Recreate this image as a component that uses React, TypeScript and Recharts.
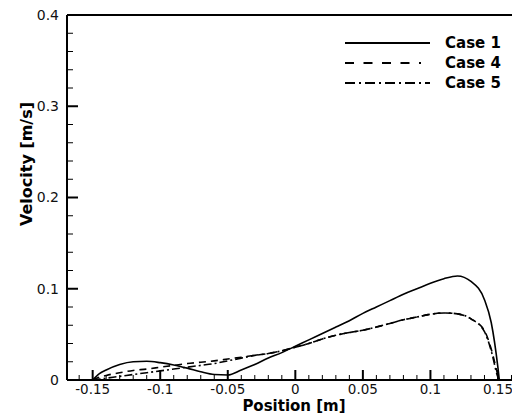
import React from "react";
import { LineChart, Line, XAxis, YAxis, ReferenceLine, Label } from "recharts";

// positions along the section [m]
const positions = [
  -0.15, -0.145, -0.14, -0.13, -0.12, -0.11, -0.1, -0.09, -0.08, -0.07, -0.06, -0.05,
  -0.04, -0.03, -0.02, -0.01, 0, 0.01, 0.02, 0.03, 0.04, 0.05, 0.06, 0.07, 0.08, 0.09,
  0.1, 0.11, 0.12, 0.13, 0.14, 0.145, 0.15, 0.151,
];

// velocity [m/s]
const case1 = [
  0, 0.007, 0.011, 0.017, 0.02, 0.0205, 0.019, 0.0165, 0.013, 0.009, 0.006, 0.0055,
  0.011, 0.017, 0.024, 0.03, 0.037, 0.044, 0.051, 0.058, 0.065, 0.073, 0.08, 0.087,
  0.094, 0.1, 0.106, 0.111, 0.114, 0.108, 0.088, 0.063, 0.013, 0,
];
const case4 = [
  0, 0.003, 0.005, 0.008, 0.0105, 0.012, 0.014, 0.016, 0.018, 0.0195, 0.021, 0.023,
  0.025, 0.027, 0.029, 0.032, 0.036, 0.04, 0.045, 0.049, 0.052, 0.0545, 0.058, 0.062,
  0.066, 0.069, 0.072, 0.0735, 0.0725, 0.067, 0.054, 0.034, 0.005, 0,
];
const case5 = [
  0, 0.001, 0.002, 0.004, 0.006, 0.008, 0.01, 0.012, 0.014, 0.016, 0.018, 0.021,
  0.024, 0.027, 0.029, 0.032, 0.036, 0.04, 0.045, 0.049, 0.052, 0.0545, 0.058, 0.062,
  0.066, 0.069, 0.072, 0.0735, 0.0725, 0.067, 0.053, 0.032, 0.003, 0,
];

const xMajorTicks = [-0.15, -0.1, -0.05, 0, 0.05, 0.1, 0.15];
const xAllTicks = [
  -0.16, -0.15, -0.14, -0.13, -0.12, -0.11, -0.1, -0.09, -0.08, -0.07, -0.06, -0.05,
  -0.04, -0.03, -0.02, -0.01, 0, 0.01, 0.02, 0.03, 0.04, 0.05, 0.06, 0.07, 0.08, 0.09,
  0.1, 0.11, 0.12, 0.13, 0.14, 0.15, 0.16,
];
const yMajorTicks = [0, 0.1, 0.2, 0.3, 0.4];
const yAllTicks = [
  0, 0.02, 0.04, 0.06, 0.08, 0.1, 0.12, 0.14, 0.16, 0.18, 0.2, 0.22, 0.24, 0.26, 0.28,
  0.3, 0.32, 0.34, 0.36, 0.38, 0.4,
];

const series = [
  { key: "case1", name: "Case 1", dash: undefined, legendDash: undefined },
  { key: "case4", name: "Case 4", dash: "7 5", legendDash: "9 9.5" },
  { key: "case5", name: "Case 5", dash: "8 3 2 3", legendDash: "10 4 2 4" },
];

const data = positions.map((x, i) => ({ x, case1: case1[i], case4: case4[i], case5: case5[i] }));

const FONT = "'DejaVu Sans', sans-serif";

const XTick = ({ x, y, payload }: any) => {
  const major = xMajorTicks.includes(payload.value);
  return (
    <g>
      <line x1={x} x2={x} y1={y} y2={y - (major ? 10 : 5)} stroke="#000" strokeWidth={major ? 2 : 1} />
      {major && (
        <text x={x} y={y + 14} textAnchor="middle" fontFamily={FONT} fontSize={13.5} fill="#111">
          {String(payload.value)}
        </text>
      )}
    </g>
  );
};

const YTick = ({ x, y, payload }: any) => {
  const major = yMajorTicks.includes(payload.value);
  return (
    <g>
      <line x1={x} x2={x + (major ? 11 : 6)} y1={y} y2={y} stroke="#000" strokeWidth={major ? 2 : 1} />
      {major && (
        <text x={x - 8} y={y} dy="0.35em" textAnchor="end" fontFamily={FONT} fontSize={14} fill="#111">
          {String(payload.value)}
        </text>
      )}
    </g>
  );
};

export default function App() {
  return (
    <div style={{ position: "fixed", left: 0, top: 0, width: 512, height: 416, overflow: "hidden", background: "#fff" }}>
      <LineChart width={525} height={416} data={data} margin={{ top: 15, right: 0, left: 0, bottom: 0 }}>
        <XAxis
          dataKey="x"
          type="number"
          domain={[-0.169, 0.17]}
          ticks={xAllTicks}
          interval={0}
          tick={<XTick />}
          tickLine={false}
          tickSize={0}
          tickMargin={0}
          height={36}
          axisLine={{ stroke: "#000", strokeWidth: 2 }}
        >
          <Label
            content={({ viewBox }: any) => (
              <text
                x={viewBox.x + viewBox.width / 2 - 2}
                y={viewBox.y + 31}
                textAnchor="middle"
                fontFamily={FONT}
                fontWeight="bold"
                fontSize={15}
                fill="#000"
              >
                Position [m]
              </text>
            )}
          />
        </XAxis>
        <YAxis
          type="number"
          domain={[0, 0.4]}
          ticks={yAllTicks}
          interval={0}
          tick={<YTick />}
          tickLine={false}
          tickSize={0}
          tickMargin={0}
          width={67}
          axisLine={{ stroke: "#000", strokeWidth: 2 }}
        >
          <Label
            content={() => (
              <text
                x={26}
                y={164}
                transform="rotate(-90 26 164)"
                textAnchor="middle"
                dy="0.35em"
                fontFamily={FONT}
                fontWeight="bold"
                fontSize={16}
                fill="#000"
              >
                Velocity [m/s]
              </text>
            )}
          />
        </YAxis>
        <ReferenceLine y={0.4} stroke="#000" strokeWidth={2} />
        {series.map((s) => (
          <Line
            key={s.key}
            dataKey={s.key}
            name={s.name}
            type="monotone"
            stroke="#000"
            strokeWidth={1.6}
            strokeDasharray={s.dash}
            dot={false}
            isAnimationActive={false}
          />
        ))}
      </LineChart>
      <svg width={512} height={416} style={{ position: "absolute", left: 0, top: 0, pointerEvents: "none" }}>
        {series.map((s, i) => (
          <g key={s.key}>
            <line
              x1={345}
              x2={s.key === "case4" ? 421 : 430}
              y1={43 + i * 20}
              y2={43 + i * 20}
              stroke="#000"
              strokeWidth={1.8}
              strokeDasharray={s.legendDash}
            />
            <text x={445} y={43 + i * 20} dy="0.36em" fontFamily={FONT} fontWeight="bold" fontSize={15} fill="#000">
              {s.name}
            </text>
          </g>
        ))}
      </svg>
    </div>
  );
}
